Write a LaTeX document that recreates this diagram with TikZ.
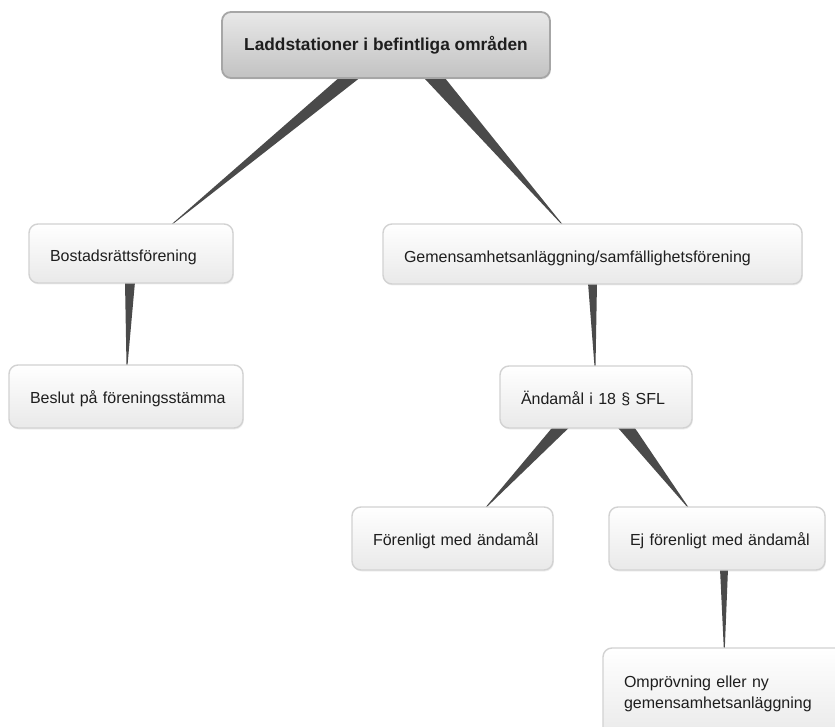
\documentclass[tikz,border=0pt]{standalone}
\usepackage{fontspec}
\setmainfont{Liberation Sans}
\usetikzlibrary{calc,shadows,backgrounds}
\definecolor{conncol}{HTML}{4A4A4A}
\definecolor{boxline}{HTML}{D2D2D2}
\definecolor{boxbot}{HTML}{E9E9E9}
\definecolor{roottop}{HTML}{E8E8E8}
\definecolor{rootbot}{HTML}{C2C2C2}
\definecolor{rootline}{HTML}{A6A6A6}
\definecolor{txt}{HTML}{1E1E1E}
\begin{document}
\begin{tikzpicture}[x=1pt,y=-1pt,
  box/.style={draw=boxline, line width=1.4pt, rounded corners=9pt,
    top color=white, bottom color=boxbot, text=txt,
    drop shadow={opacity=0.12, shadow xshift=0.8pt, shadow yshift=-1.5pt},
    inner xsep=21pt, inner ysep=0pt, align=left, text height=17pt, text depth=3pt,
    font=\fontsize{16}{21}\selectfont},
  lowtext/.style={text height=20pt, text depth=3pt},
  rootbox/.style={draw=rootline, line width=1.8pt, rounded corners=9pt,
    top color=roottop, bottom color=rootbot, text=txt,
    drop shadow={opacity=0.15, shadow xshift=0.8pt, shadow yshift=-1.5pt},
    inner sep=0pt, align=center,
    font=\fontsize{17.3}{21}\bfseries\selectfont},
  conn/.style={fill=conncol}]
\useasboundingbox (0,0) rectangle (835,727);

\node[rootbox, minimum width=328pt, minimum height=66pt] (root) at (386,45) {Laddstationer i befintliga områden};
\node[box, lowtext, text width=162pt, minimum height=59pt] (bostad) at (131,253.5) {\mbox{Bostadsrättsförening}};
\node[box, text width=192pt, minimum height=63pt] (beslut) at (126,396.5) {\mbox{Beslut på föreningsstämma}};
\node[box, lowtext, text width=377pt, minimum height=60pt] (gemens) at (592.5,254) {\mbox{Gemensamhetsanläggning/samfällighetsförening}};
\node[box, text width=150pt, minimum height=62pt] (andamal) at (596,397) {\mbox{Ändamål i 18 § SFL}};
\node[box, text width=159pt, minimum height=63pt] (forenligt) at (452.5,538.5) {\mbox{Förenligt med ändamål}};
\node[box, text width=174pt, minimum height=63pt] (ej) at (717,538.5) {\mbox{Ej förenligt med ändamål}};
\node[box, text width=200pt, text height=10pt, text depth=24pt, minimum height=92pt] (ompr) at (724,694) {\mbox{Omprövning eller ny}\\\mbox{gemensamhetsanläggning}};

\begin{pgfonlayer}{background}
\fill[white] (0,0) rectangle (835,727);
\fill[conn] ($(root.south)+(-46,-2)$) -- ($(root.south)+(-25,-2)$) -- ($(bostad.north)+(41.5,1)$) -- ($(bostad.north)+(40.5,1)$) -- cycle;
\fill[conn] ($(root.south)+(37,-2)$) -- ($(root.south)+(58,-2)$) -- ($(gemens.north)+(-30,1)$) -- ($(gemens.north)+(-31,1)$) -- cycle;
\fill[conn] ($(bostad.south)+(-6,-2)$) -- ($(bostad.south)+(4,-2)$) -- ($(beslut.north)+(1.5,1)$) -- ($(beslut.north)+(0.5,1)$) -- cycle;
\fill[conn] ($(gemens.south)+(-4.5,-2)$) -- ($(gemens.south)+(4.5,-2)$) -- ($(andamal.north)+(-0.5,1)$) -- ($(andamal.north)+(-1.5,1)$) -- cycle;
\fill[conn] ($(andamal.south)+(-43,-2)$) -- ($(andamal.south)+(-26,-2)$) -- ($(forenligt.north)+(34,1)$) -- ($(forenligt.north)+(33,1)$) -- cycle;
\fill[conn] ($(andamal.south)+(21,-2)$) -- ($(andamal.south)+(38,-2)$) -- ($(ej.north)+(-28.5,1)$) -- ($(ej.north)+(-29.5,1)$) -- cycle;
\fill[conn] ($(ej.south)+(3,-2)$) -- ($(ej.south)+(11,-2)$) -- ($(ompr.north west)+(122.5,1)$) -- ($(ompr.north west)+(121.5,1)$) -- cycle;
\end{pgfonlayer}
\end{tikzpicture}
\end{document}
